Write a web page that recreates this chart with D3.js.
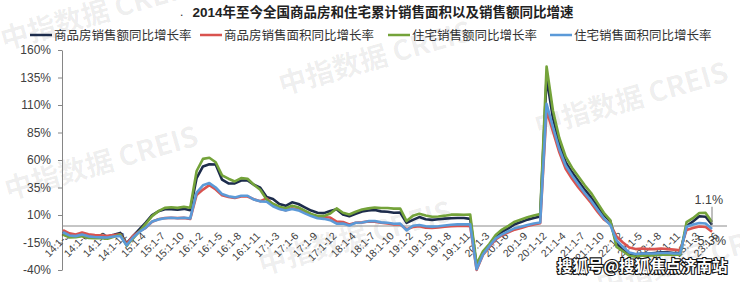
<!DOCTYPE html>
<html>
<head>
<meta charset="utf-8">
<script src="https://cdn.jsdelivr.net/npm/d3@7"></script>
<style>
  body { margin: 0; background: #fff; }
  svg { display: block; font-family: "Liberation Sans", Arial, "Noto Sans CJK SC", sans-serif; }
</style>
</head>
<body>
<div id="chart"></div>
<script>
// categories: cumulative periods, 14:1-3 ... 23:1-6
const yearMonths = [
  ["14", [3,4,5,6,7,8,9,10,11,12]],
  ["15", [2,3,4,5,6,7,8,9,10,11,12]],
  ["16", [2,3,4,5,6,7,8,9,10,11,12]],
  ["17", [2,3,4,5,6,7,8,9,10,11,12]],
  ["18", [2,3,4,5,6,7,8,9,10,11,12]],
  ["19", [2,3,4,5,6,7,8,9,10,11,12]],
  ["20", [2,3,4,5,6,7,8,9,10,11,12]],
  ["21", [2,3,4,5,6,7,8,9,10,11,12]],
  ["22", [2,3,4,5,6,7,8,9,10,11,12]],
  ["23", [2,3,4,5,6]]
];
const categories = yearMonths.flatMap(([yy, ms]) => ms.map(m => `${yy}:1-${m}`));

// 商品房销售额同比增长率 (%)
const salesAmount = [
  -5.2, -7.8, -8.5, -6.7, -8.7, -8.9, -8.9, -9.5, -8.0, -6.3,
  -15.8, -9.3, -3.1, 3.0, 10.0, 13.4, 15.3, 15.3, 14.9, 15.6, 14.4,
  43.6, 54.1, 56.2, 55.9, 42.1, 38.7, 38.7, 41.3, 41.4, 37.5, 34.8,
  26.3, 24.5, 20.0, 18.3, 21.5, 20.0, 17.0, 14.0, 12.0, 11.7, 13.7,
  15.3, 10.4, 8.8, 11.1, 13.2, 14.1, 14.5, 13.3, 13.0, 12.1, 12.2,
  2.8, 5.6, 8.1, 6.1, 5.6, 6.2, 6.7, 7.1, 7.3, 7.3, 6.5,
  -35.9, -24.7, -18.6, -10.6, -5.4, -2.1, 1.6, 3.7, 5.8, 7.2, 8.7,
  135.0, 98.0, 75.0, 58.0, 49.0, 41.0, 33.0, 26.0, 18.0, 10.0, 4.8,
  -16.0, -21.0, -25.0, -26.0, -25.0, -25.0, -24.5, -24.0, -24.0, -24.5, -24.5,
  -0.1, 4.1, 8.8, 8.4, 1.1
];
// 商品房销售面积同比增长率 (%)
const salesArea = [
  -3.8, -6.7, -7.8, -6.0, -7.6, -8.3, -8.6, -8.9, -8.2, -7.6,
  -16.3, -9.2, -4.8, -1.6, 3.9, 6.1, 7.2, 7.5, 7.2, 7.4, 6.5,
  28.2, 33.1, 37.1, 33.2, 27.9, 26.4, 25.5, 26.9, 26.8, 24.3, 22.5,
  25.1, 19.5, 15.7, 14.3, 16.1, 15.0, 12.7, 10.3, 8.2, 8.0, 7.7,
  4.1, 3.6, 1.3, 2.9, 3.3, 4.2, 4.0, 2.9, 2.2, 1.4, 1.3,
  -3.0, -0.9, -0.3, -1.6, -1.8, -1.3, -0.6, -0.1, 0.1, 0.2, -0.1,
  -39.9, -26.3, -19.3, -12.3, -8.4, -5.8, -3.3, -1.8, 0.0, 1.3, 2.6,
  105.0, 86.0, 67.0, 52.0, 43.0, 35.0, 28.0, 21.0, 13.0, 6.0, 1.9,
  -9.6, -15.0, -19.5, -21.0, -20.5, -21.0, -21.0, -20.5, -21.0, -21.5, -22.0,
  -3.6, -1.8, -0.4, -0.9, -5.3
];
// 住宅销售额同比增长率 (%)
const resAmount = [
  -7.7, -10.3, -10.2, -9.2, -10.9, -11.1, -11.1, -11.6, -9.8, -7.8,
  -17.9, -11.5, -5.0, 2.0, 9.0, 13.5, 16.5, 17.0, 16.5, 17.5, 16.6,
  50.0, 61.0, 62.0, 58.0, 46.0, 43.0, 40.5, 43.5, 43.0, 37.5, 33.0,
  24.0, 20.2, 17.5, 16.2, 18.5, 17.0, 14.0, 11.0, 9.2, 9.0, 11.3,
  16.0, 12.0, 10.5, 13.0, 15.0, 16.0, 16.8, 16.3, 16.3, 15.8, 15.8,
  4.5, 9.4, 11.2, 9.6, 8.4, 8.7, 9.4, 10.3, 10.3, 10.2, 10.3,
  -34.7, -23.1, -16.4, -8.1, -3.2, 0.2, 3.9, 5.9, 8.0, 9.5, 10.8,
  145.0, 105.0, 80.0, 63.0, 53.0, 45.0, 37.0, 30.0, 21.0, 12.0, 5.3,
  -19.0, -23.0, -27.0, -28.0, -27.0, -27.0, -26.5, -26.0, -26.0, -26.0, -26.0,
  3.5, 7.1, 11.8, 11.9, 3.7
];
// 住宅销售面积同比增长率 (%)
const resArea = [
  -5.7, -8.6, -9.2, -7.8, -9.4, -10.0, -10.3, -10.5, -9.5, -9.1,
  -17.5, -10.5, -5.5, -1.5, 4.0, 6.0, 7.0, 7.5, 7.0, 7.5, 6.9,
  30.4, 37.0, 39.0, 35.0, 29.0, 27.0, 26.0, 27.5, 27.5, 24.0, 22.4,
  22.0, 18.0, 15.5, 14.0, 15.5, 14.2, 11.5, 9.0, 7.0, 6.5, 5.3,
  2.1, 2.3, 0.5, 2.9, 3.2, 4.4, 4.6, 3.3, 2.9, 2.0, 2.2,
  -4.0, 0.3, 0.9, -0.2, -0.6, -0.2, 0.5, 1.1, 1.5, 1.5, 1.5,
  -39.2, -25.9, -18.3, -11.2, -7.6, -4.8, -2.0, -0.7, 1.0, 2.3, 3.2,
  111.0, 90.0, 70.0, 55.0, 46.0, 38.0, 30.0, 23.0, 15.0, 7.0, 1.1,
  -13.0, -19.0, -24.0, -25.5, -25.0, -25.0, -25.0, -24.5, -24.5, -25.0, -25.0,
  -0.6, 1.4, 2.7, 2.3, -2.8
];

const seriesNames = ["商品房销售额同比增长率", "商品房销售面积同比增长率", "住宅销售额同比增长率", "住宅销售面积同比增长率"];
const seriesColors = ["#1d2c4c", "#d9534f", "#74a33a", "#5b9ad8"];
const seriesValues = [salesAmount, salesArea, resAmount, resArea];
const yTicks = [-40, -15, 10, 35, 60, 85, 110, 135, 160];
const title = "2014年至今全国商品房和住宅累计销售面积以及销售额同比增速";

const width = 740, height = 282;
const svg = d3.select("#chart").append("svg").attr("width", width).attr("height", height);

// watermarks
const marks = [[4, 50], [8, 200], [282, 95], [538, 136], [262, 275], [600, 295]];
marks.forEach(([mx, my]) => {
  svg.append("text")
    .attr("transform", `translate(${mx},${my}) rotate(-16)`)
    .attr("font-size", 28)
    .attr("font-weight", "bold")
    .attr("font-family", "Noto Sans CJK SC, Liberation Sans, sans-serif")
    .attr("fill", "#000")
    .attr("fill-opacity", 0.07)
    .text("中指数据 CREIS");
});

const x = d3.scalePoint().domain(categories).range([63, 712]);
const y = d3.scaleLinear().domain([-40, 160]).range([270, 50]);

// title
svg.append("text").attr("x", 180).attr("y", 16).attr("font-size", 12).attr("fill", "#333").text(".");
svg.append("text")
  .attr("x", 383).attr("y", 17)
  .attr("text-anchor", "middle")
  .attr("font-size", 13.5).attr("font-weight", "bold").attr("fill", "#222")
  .text(title);

// legend
const legendX = [30, 200, 388, 550];
seriesNames.forEach((name, i) => {
  const g = svg.append("g").attr("transform", `translate(${legendX[i]},35)`);
  g.append("line").attr("x1", 0).attr("x2", 22).attr("y1", 0).attr("y2", 0)
    .attr("stroke", seriesColors[i]).attr("stroke-width", 2.5);
  g.append("text").attr("x", 24).attr("y", 4.5)
    .attr("font-size", 12.5).attr("fill", "#333")
    .attr("font-family", "Noto Sans CJK SC, sans-serif")
    .text(name);
});

// y axis
const yAxis = svg.append("g").attr("transform", "translate(62,0)")
  .call(d3.axisLeft(y).tickValues(yTicks).tickSize(4).tickPadding(7).tickSizeOuter(0).tickFormat(d => d + "%"));
yAxis.select(".domain").attr("stroke", "#868686");
yAxis.selectAll(".tick line").attr("stroke", "#868686");
yAxis.selectAll("text").attr("font-size", 12).attr("fill", "#404040").attr("font-family", "Liberation Sans, Arial, sans-serif");

// x axis at zero
const xTicks = categories.filter((d, i) => i % 3 === 0);
const xAxis = svg.append("g").attr("transform", `translate(0,${y(0)})`)
  .call(d3.axisBottom(x).tickValues(xTicks).tickSize(0).tickSizeOuter(0));
xAxis.select(".domain").attr("d", `M62,0H727`).attr("stroke", "#8c8c8c");
xAxis.selectAll("text")
  .attr("font-size", 10.5).attr("fill", "#404040").attr("font-family", "Liberation Sans, Arial, sans-serif")
  .attr("text-anchor", "end")
  .attr("y", 0).attr("dy", "0.35em")
  .attr("transform", "translate(4,8) rotate(-45)");

// lines
const line = d3.line().x((d, i) => x(categories[i])).y(d => y(d));
seriesValues.forEach((vals, i) => {
  svg.append("path")
    .datum(vals)
    .attr("fill", "none")
    .attr("stroke", seriesColors[i])
    .attr("stroke-width", 2.6)
    .attr("stroke-linejoin", "round")
    .attr("d", line);
});

// end annotations
const lastCat = categories[categories.length - 1];
const lastAmt = salesAmount[salesAmount.length - 1];
const lastArea = salesArea[salesArea.length - 1];
svg.append("path")
  .attr("d", `M${x(lastCat)},${y(lastAmt)}V${y(lastAmt) - 18}`)
  .attr("stroke", "#7f7f7f").attr("fill", "none");
svg.append("text").attr("x", x(lastCat) + 11).attr("y", y(lastAmt) - 21)
  .attr("text-anchor", "end").attr("font-size", 12.5).attr("fill", "#404040")
  .text(lastAmt + "%");
svg.append("text").attr("x", x(lastCat) + 14).attr("y", y(lastArea) + 13)
  .attr("text-anchor", "end").attr("font-size", 12.5).attr("fill", "#404040")
  .text(lastArea + "%");

// source stamp
svg.append("text")
  .attr("x", 557).attr("y", 272)
  .attr("font-size", 15.5).attr("font-weight", "bold")
  .attr("font-family", "Noto Sans CJK SC, sans-serif")
  .attr("fill", "#fff").attr("stroke", "#111").attr("stroke-width", 2.2)
  .attr("paint-order", "stroke")
  .text("搜狐号@搜狐焦点济南站");
</script>
</body>
</html>
